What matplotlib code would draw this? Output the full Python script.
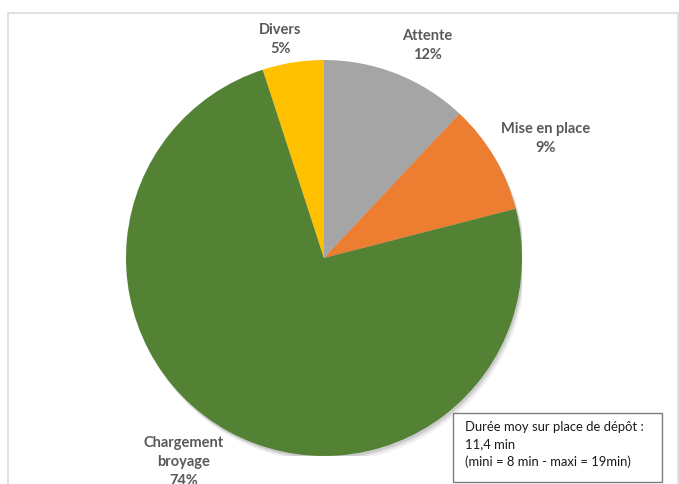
import matplotlib
matplotlib.use("Agg")
import matplotlib.pyplot as plt
from matplotlib.patches import Circle, Rectangle

# Répartition du temps sur place de dépôt
categories = ["Attente", "Mise en place", "Chargement\nbroyage", "Divers"]
percents = [12, 9, 74, 5]
colors = ["#A5A5A5", "#ED7D31", "#548235", "#FFC000"]

# position des étiquettes (coordonnées du camembert, rayon = 1)
label_pos = [(0.52, 1.075), (1.12, 0.605), (-0.71, -1.03), (-0.22, 1.105)]

W, H = 679, 484
fig = plt.figure(figsize=(W / 100, H / 100), dpi=100)
fig.patch.set_facecolor("white")

# cadre du graphique
fig.patches.append(Rectangle((8 / W, -0.05), 670 / W, 1 - 13 / H + 0.05,
                             transform=fig.transFigure, fill=False,
                             edgecolor="#dcdcdc", linewidth=1.2))

ax = fig.add_axes([126 / W, 28 / H, 396 / W, 396 / H])

# ombre légère sous le camembert
for off, a in [(0.030, 0.05), (0.020, 0.07), (0.012, 0.09)]:
    ax.add_patch(Circle((off * 0.6, -off), 1.0, color="#000000", alpha=a,
                        linewidth=0, zorder=0))

wedges, _ = ax.pie(percents, colors=colors, startangle=90, counterclock=False,
                   radius=1.0, wedgeprops=dict(linewidth=0))
for w in wedges:
    w.set_zorder(2)

ax.set_xlim(-1, 1)
ax.set_ylim(-1, 1)
ax.set_aspect("equal")
ax.axis("off")

for name, pct, (x, y) in zip(categories, percents, label_pos):
    ax.text(x, y, f"{name}\n{pct}%", ha="center", va="center",
            fontsize=10.5, fontweight="bold", color="#595959",
            family=["Lato", "DejaVu Sans"], linespacing=1.45, clip_on=False)

# encadré durée moyenne
fig.patches.append(Rectangle((453 / W, 1 - 482 / H), 209 / W, 69 / H,
                             transform=fig.transFigure, facecolor="white",
                             edgecolor="#7f7f7f", linewidth=1.0, zorder=5))
fig.text(465 / W, 1 - 421 / H,
         "Durée moy sur place de dépôt :\n11,4 min\n(mini = 8 min - maxi = 19min)",
         ha="left", va="top", fontsize=9.4, color="#1a1a1a",
         family=["Lato", "DejaVu Sans"], linespacing=1.5, zorder=6)

fig.savefig("out.png", dpi=100)
